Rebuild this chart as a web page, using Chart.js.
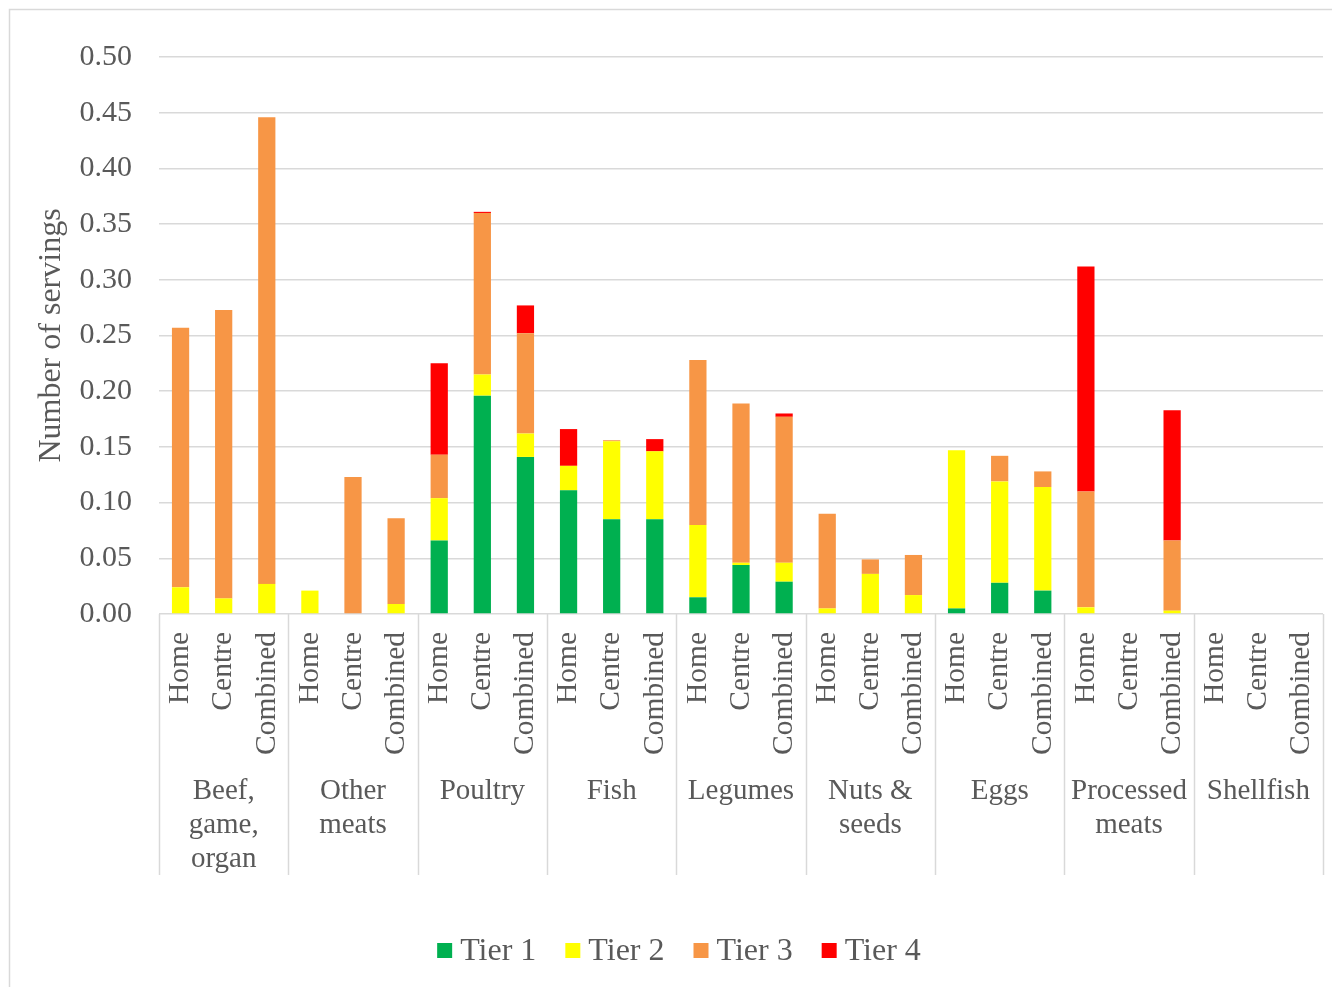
<!DOCTYPE html>
<html>
<head>
<meta charset="utf-8">
<script src="https://cdn.jsdelivr.net/npm/chart.js@4/dist/chart.umd.min.js"></script>
<style>
  html, body { margin: 0; padding: 0; background: #fff; }
  #wrap { width: 1332px; height: 987px; }
</style>
</head>
<body>
<div id="wrap"><canvas id="chart" width="1332" height="987"></canvas></div>
<script>
// Food groups (drawn under the settings) and the three settings per group
const groups = [
  ['Beef,', 'game,', 'organ'],
  ['Other', 'meats'],
  ['Poultry'],
  ['Fish'],
  ['Legumes'],
  ['Nuts &', 'seeds'],
  ['Eggs'],
  ['Processed', 'meats'],
  ['Shellfish']
];
const settings = ['Home', 'Centre', 'Combined'];

// Servings per tier, one value per group × setting (Home, Centre, Combined)
const tier1 = [
  0, 0, 0,
  0, 0, 0,
  0.066, 0.196, 0.141,
  0.111, 0.085, 0.085,
  0.015, 0.044, 0.029,
  0, 0, 0,
  0.005, 0.028, 0.021,
  0, 0, 0,
  0, 0, 0
];
const tier2 = [
  0.024, 0.014, 0.027,
  0.021, 0, 0.009,
  0.038, 0.019, 0.021,
  0.022, 0.070, 0.061,
  0.065, 0.002, 0.017,
  0.005, 0.036, 0.017,
  0.142, 0.091, 0.093,
  0.006, 0, 0.003,
  0, 0, 0
];
const tier3 = [
  0.233, 0.259, 0.419,
  0, 0.123, 0.077,
  0.039, 0.145, 0.090,
  0, 0.001, 0,
  0.148, 0.143, 0.131,
  0.085, 0.013, 0.036,
  0, 0.023, 0.014,
  0.104, 0, 0.063,
  0, 0, 0
];
const tier4 = [
  0, 0, 0,
  0, 0, 0,
  0.082, 0.001, 0.025,
  0.033, 0, 0.011,
  0, 0, 0.003,
  0, 0, 0,
  0, 0, 0,
  0.202, 0, 0.117,
  0, 0, 0
];
const tierNames = ['Tier 1', 'Tier 2', 'Tier 3', 'Tier 4'];
const tierColors = ['#00B050', '#FFFF00', '#F79646', '#FF0000'];
const yTicks = [0, 0.05, 0.10, 0.15, 0.20, 0.25, 0.30, 0.35, 0.40, 0.45, 0.50];

const labels = [];
groups.forEach(() => settings.forEach(s => labels.push(s)));

const FONT = '"Liberation Serif", "Times New Roman", serif';
const TEXT = '#595959';
const LINE = '#d9d9d9';

// Frame line around the whole figure
const framePlugin = {
  id: 'frame',
  beforeDraw(chart) {
    const ctx = chart.ctx;
    ctx.save();
    ctx.fillStyle = '#fff';
    ctx.fillRect(0, 0, chart.width, chart.height);
    ctx.strokeStyle = LINE;
    ctx.lineWidth = 1.5;
    ctx.strokeRect(9.5, 9.5, chart.width + 20, chart.height + 20);
    ctx.restore();
  }
};

// Group separators and group names below the setting labels
const groupAxisPlugin = {
  id: 'groupAxis',
  afterDraw(chart) {
    const ctx = chart.ctx;
    const xs = chart.scales.x;
    const top = chart.chartArea.bottom;
    const bottom = 875;
    const n = settings.length;
    ctx.save();
    ctx.strokeStyle = LINE;
    ctx.lineWidth = 1.5;
    const edges = [];
    for (let g = 0; g <= groups.length; g++) {
      let x;
      if (g === 0) x = xs.left;
      else if (g === groups.length) x = xs.right;
      else x = (xs.getPixelForTick(g * n - 1) + xs.getPixelForTick(g * n)) / 2;
      edges.push(x);
      ctx.beginPath();
      ctx.moveTo(Math.round(x) + 0.5, top);
      ctx.lineTo(Math.round(x) + 0.5, bottom);
      ctx.stroke();
    }
    ctx.fillStyle = TEXT;
    ctx.font = '29px ' + FONT;
    ctx.textAlign = 'center';
    ctx.textBaseline = 'middle';
    groups.forEach((lines, g) => {
      const cx = (edges[g] + edges[g + 1]) / 2;
      lines.forEach((t, i) => ctx.fillText(t, cx, 791 + i * 34));
    });
    ctx.restore();
  }
};

// Legend row along the bottom
const legendRowPlugin = {
  id: 'legendRow',
  afterDraw(chart) {
    const ctx = chart.ctx;
    ctx.save();
    ctx.font = '32px ' + FONT;
    ctx.textBaseline = 'middle';
    ctx.textAlign = 'left';
    const box = 15, gapText = 8, gapItem = 29;
    const items = chart.data.datasets.map(d => ({ label: d.label, color: d.backgroundColor, w: ctx.measureText(d.label).width }));
    const total = items.reduce((a, it) => a + box + gapText + it.w, 0) + gapItem * (items.length - 1);
    let x = 679 - total / 2;
    const cy = 951;
    items.forEach(it => {
      ctx.fillStyle = it.color;
      ctx.fillRect(x, cy - 8, box, box);
      ctx.fillStyle = TEXT;
      ctx.fillText(it.label, x + box + gapText, cy + 1);
      x += box + gapText + it.w + gapItem;
    });
    ctx.restore();
  }
};

const seriesValues = [tier1, tier2, tier3, tier4];

new Chart(document.getElementById('chart'), {
  type: 'bar',
  data: {
    labels: labels,
    datasets: seriesValues.map((vals, i) => ({
      label: tierNames[i],
      data: vals,
      backgroundColor: tierColors[i],
      borderWidth: 0,
      barPercentage: 0.4,
      categoryPercentage: 1.0
    }))
  },
  options: {
    responsive: false,
    animation: false,
    devicePixelRatio: 1,
    layout: { padding: { left: 10, right: 9, top: 57, bottom: 0 } },
    plugins: {
      legend: { display: false },
      tooltip: { enabled: false }
    },
    scales: {
      x: {
        stacked: true,
        grid: { display: false, drawTicks: false },
        border: { display: false },
        ticks: {
          autoSkip: false,
          minRotation: 90,
          maxRotation: 90,
          padding: 18,
          color: TEXT,
          font: { family: FONT, size: 29.5 }
        },
        afterFit(scale) {
          scale.height = 987 - 614;
          scale.paddingLeft = 0;
          scale.paddingRight = 0;
        }
      },
      y: {
        stacked: true,
        min: 0,
        max: 0.5,
        afterBuildTicks(scale) {
          scale.ticks = yTicks.map(v => ({ value: v }));
        },
        grid: { color: LINE, lineWidth: 1.5, drawTicks: false },
        border: { display: false },
        ticks: {
          padding: 27,
          color: TEXT,
          font: { family: FONT, size: 30 },
          callback: v => Number(v).toFixed(2)
        },
        title: {
          display: true,
          text: 'Number of servings',
          color: TEXT,
          font: { family: FONT, size: 32 },
          padding: { top: 22, bottom: 0 }
        },
        afterFit(scale) {
          scale.width = 149;
          scale.paddingTop = 0;
          scale.paddingBottom = 0;
        }
      }
    }
  },
  plugins: [framePlugin, groupAxisPlugin, legendRowPlugin]
});
</script>
</body>
</html>
